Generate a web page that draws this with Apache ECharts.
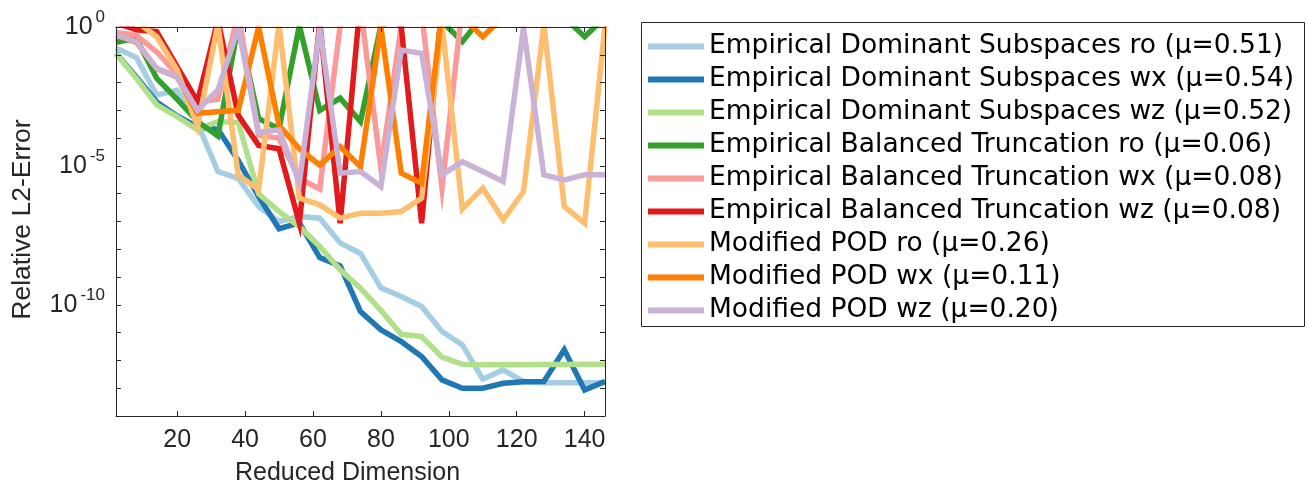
<!DOCTYPE html>
<html>
<head>
<meta charset="utf-8">
<script src="https://cdn.jsdelivr.net/npm/echarts@6/dist/echarts.min.js"></script>
<style>
  html, body { margin: 0; padding: 0; background: #fff; }
  #chart { width: 1309px; height: 484px; }
</style>
</head>
<body>
<div id="chart"></div>
<script>
// reduced dimension (x)
var dims = [2, 8, 14, 20, 26, 32, 38, 44, 50, 56, 62, 68, 74, 80, 86, 92, 98, 104, 110, 116, 122, 128, 134, 140, 146];

// log10 of the relative L2 error (values > 0 are clipped at the top)
var edsRo  = [-0.76, -1.1, -2.45, -2.27, -3.46, -5.2, -5.45, -6.46, -7.0, -6.82, -6.88, -7.77, -8.15, -9.39, -9.7, -10.06, -10.96, -11.44, -12.67, -12.34, -12.76, -12.8, -12.8, -12.8, -12.8];
var edsWx  = [-0.95, -1.8, -2.7, -3.2, -3.6, -3.68, -4.8, -6.1, -7.26, -7.05, -8.3, -8.6, -10.24, -10.9, -11.32, -11.86, -12.7, -13.0, -13.0, -12.82, -12.77, -12.76, -11.62, -13.06, -12.76];
var edsWz  = [-0.95, -1.85, -2.8, -3.23, -3.7, -3.4, -3.44, -6.0, -6.64, -7.18, -7.9, -8.74, -9.4, -10.2, -11.06, -11.14, -11.88, -12.14, -12.16, -12.16, -12.16, -12.15, -12.15, -12.14, -12.14];
var ebtRo  = [-0.55, -0.41, -1.85, -2.6, -3.4, -3.92, 0.05, -3.3, -3.66, 0.05, -3.0, -2.56, -3.4, 0.05, 0.3, 0.3, 0.2, -0.53, 0.4, 0.4, 0.4, 0.4, 0.35, -0.35, 0.35];
var ebtWx  = [-0.2, -0.3, -0.9, -1.7, -2.7, -2.6, 0.5, -3.9, -4.0, -5.46, -5.83, 0.05, 0.7, -5.08, 0.05, 0.5, -5.8, 0.8, 0.8, 0.8, 0.8, 0.8, 0.8, 0.8, 0.8];
var ebtWz  = [0.15, -0.1, -0.17, -1.43, -2.69, 0.25, -3.18, -4.26, -4.38, -7.06, 0.2, -7.06, 1.0, 0.8, 0.0, -7.06, 0.8, 0.8, 0.8, 0.8, 0.8, 0.8, 0.8, 0.8, 0.8];
var podRo  = [0.8, 0.2, -0.35, -1.55, -3.59, 0.1, -5.33, -5.85, 0.1, -6.16, -6.4, -6.88, -6.7, -6.7, -6.64, -6.16, 0.1, -6.55, -5.8, -6.94, -5.92, 0.1, -6.46, -7.06, 0.05];
var podWx  = [-0.3, -0.55, -1.5, -1.8, -3.1, -3.05, -3.0, 0.0, -3.54, -4.38, -4.97, -4.3, -5.03, 0.0, -5.26, -5.62, 0.6, 0.35, -0.35, 0.35, 0.5, 0.5, 0.5, 0.5, 0.5];
var podWz  = [-0.29, -0.53, -1.49, -1.79, -2.99, -2.27, -0.03, -3.8, -3.7, -5.6, -0.03, -5.26, -5.2, -5.74, -0.83, -0.95, -5.32, -4.85, -5.2, -5.56, -0.03, -5.32, -5.5, -5.32, -5.32];

var names = [
  "Empirical Dominant Subspaces ro (\u03bc=0.51)",
  "Empirical Dominant Subspaces wx (\u03bc=0.54)",
  "Empirical Dominant Subspaces wz (\u03bc=0.52)",
  "Empirical Balanced Truncation ro (\u03bc=0.06)",
  "Empirical Balanced Truncation wx (\u03bc=0.08)",
  "Empirical Balanced Truncation wz (\u03bc=0.08)",
  "Modified POD ro (\u03bc=0.26)",
  "Modified POD wx (\u03bc=0.11)",
  "Modified POD wz (\u03bc=0.20)"
];
var colors = ['#a6cee3', '#1f78b4', '#b2df8a', '#33a02c', '#fb9a99', '#e31a1c', '#fdbf6f', '#ff7f00', '#cab2d6'];
var allSeries = [edsRo, edsWx, edsWz, ebtRo, ebtWx, ebtWz, podRo, podWx, podWz];

var xTickValues = [20, 40, 60, 80, 100, 120, 140];
var yTickValues = [1, 1e-1, 1e-2, 1e-3, 1e-4, 1e-5, 1e-6, 1e-7, 1e-8, 1e-9, 1e-10, 1e-11, 1e-12, 1e-13, 1e-14];
var yLabelValues = [1, 1e-5, 1e-10];

var axisColor = '#262626';
var tickFont = 'Liberation Sans';

var series = allSeries.map(function (arr, k) {
  return {
    name: names[k],
    type: 'line',
    symbol: 'none',
    clip: true,
    color: colors[k],
    lineStyle: { width: 5.5, color: colors[k], join: 'miter', miterLimit: 10 },
    data: dims.map(function (d, i) { return [d, Math.pow(10, arr[i])]; })
  };
});

var myChart = echarts.init(document.getElementById('chart'), null, { renderer: 'canvas' });

var option = {
  animation: false,
  backgroundColor: '#fff',
  grid: { left: 116, top: 27, width: 489, height: 389, containLabel: false, outerBoundsMode: 'none' },
  legend: {
    orient: 'vertical',
    left: 648,
    top: 33,
    padding: 0,
    icon: 'rect',
    itemWidth: 56,
    itemHeight: 6,
    itemGap: 6,
    selectedMode: false,
    textStyle: { fontFamily: 'DejaVu Sans', fontSize: 26.5, color: '#000' },
    data: names
  },
  graphic: [{
    // legend frame
    type: 'rect',
    shape: { x: 641.5, y: 22.5, width: 663, height: 304 },
    style: { fill: 'none', stroke: axisColor, lineWidth: 1 },
    z: 0
  }, {
    // hide the stroke overflow above the plot box (lines are clipped at the top like matlab)
    type: 'rect',
    shape: { x: 112, y: 0, width: 500, height: 26.5 },
    style: { fill: '#fff' },
    z: 5
  }],
  xAxis: [{
    type: 'value',
    min: 2,
    max: 146,
    position: 'bottom',
    name: 'Reduced Dimension',
    nameLocation: 'middle',
    nameGap: 45,
    nameTextStyle: { fontFamily: tickFont, fontSize: 25, color: axisColor, padding: [0, 26, 0, 0] },
    axisLine: { show: true, lineStyle: { color: axisColor, width: 1 } },
    axisTick: { show: true, inside: true, length: 5, customValues: xTickValues, lineStyle: { color: axisColor } },
    axisLabel: { customValues: xTickValues, margin: 12, fontFamily: tickFont, fontSize: 25, color: axisColor },
    splitLine: { show: false }
  }, {
    type: 'value',
    min: 2,
    max: 146,
    position: 'top',
    z: 6,
    axisLine: { show: true, lineStyle: { color: axisColor, width: 1 } },
    axisTick: { show: true, inside: true, length: 5, customValues: xTickValues, lineStyle: { color: axisColor } },
    axisLabel: { show: false },
    splitLine: { show: false }
  }],
  yAxis: [{
    type: 'log',
    logBase: 10,
    min: 1e-14,
    max: 1,
    position: 'left',
    z: 6,
    name: 'Relative L2-Error',
    nameLocation: 'middle',
    nameGap: 80,
    nameTextStyle: { fontFamily: tickFont, fontSize: 26.5, color: axisColor, padding: [0, 0, 0, 4] },
    axisLine: { show: true, lineStyle: { color: axisColor, width: 1 } },
    axisTick: { show: true, inside: true, length: 5, customValues: yTickValues, lineStyle: { color: axisColor } },
    axisLabel: {
      customValues: yLabelValues,
      margin: 11,
      formatter: function (v) {
        var e = Math.round(Math.log10(v));
        return '{b|10}{s|' + e + '}';
      },
      rich: {
        b: { fontFamily: tickFont, fontSize: 25, color: axisColor, lineHeight: 25, verticalAlign: 'bottom', padding: [6, 0, 0, 0] },
        s: { fontFamily: tickFont, fontSize: 17, color: axisColor, lineHeight: 17, verticalAlign: 'bottom', padding: [0, 0, 14, 3] }
      }
    },
    splitLine: { show: false }
  }, {
    type: 'log',
    logBase: 10,
    min: 1e-14,
    max: 1,
    position: 'right',
    z: 6,
    axisLine: { show: true, lineStyle: { color: axisColor, width: 1 } },
    axisTick: { show: true, inside: true, length: 5, customValues: yTickValues, lineStyle: { color: axisColor } },
    axisLabel: { show: false },
    splitLine: { show: false }
  }],
  series: series
};

myChart.setOption(option);
</script>
</body>
</html>
